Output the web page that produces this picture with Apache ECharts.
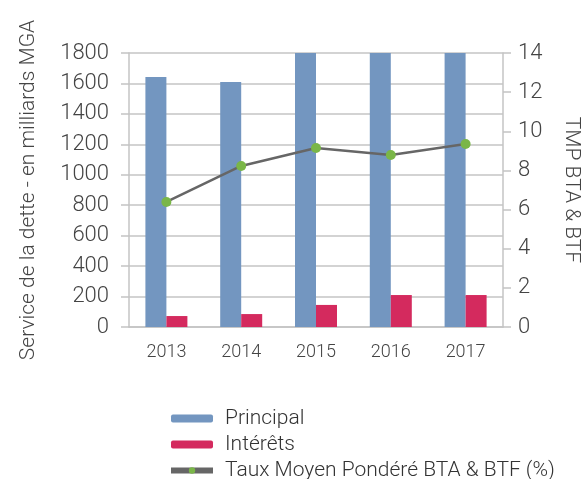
<!DOCTYPE html>
<html>
<head>
<meta charset="utf-8">
<script src="https://cdn.jsdelivr.net/npm/echarts@6/dist/echarts.min.js"></script>
<style>
  html, body { margin: 0; padding: 0; background: #fff; }
  #chart { width: 584px; height: 479px; }
</style>
</head>
<body>
<div id="chart"></div>
<script>
const years = ['2013', '2014', '2015', '2016', '2017']
const principal = [1642, 1609, 1800, 1800, 1800]
const interets = [72, 85, 145, 210, 210]
const tauxMoyen = [6.39, 8.23, 9.15, 8.79, 9.35]
const leftTicks = { min: 0, max: 1800, interval: 200 }
const rightTicks = { min: 0, max: 14, interval: 2 }

const font = 'Roboto'
const txt = '#444'
const gridColor = '#c4c4c4'

const chart = echarts.init(document.getElementById('chart'), null, { renderer: 'canvas' })

const option = {
    animation: false,
    textStyle: { fontFamily: font, fontWeight: 300 },
    grid: {
        left: 129,
        right: 81,
        top: 53,
        bottom: 152,
        outerBoundsMode: 'none',
        containLabel: false
    },
    legend: {
        orient: 'vertical',
        left: 163,
        top: 403,
        height: 90,
        itemWidth: 42,
        itemHeight: 8,
        itemGap: 5,
        lineStyle: { width: 6 },
        textStyle: { fontSize: 21, color: '#333', fontFamily: font, fontWeight: 300, padding: [0, 0, 0, 7] },
        data: ['Principal', 'Intérêts', 'Taux Moyen Pondéré BTA & BTF (%)']
    },
    xAxis: {
        type: 'category',
        data: years,
        axisTick: { show: false },
        axisLine: { lineStyle: { color: gridColor, width: 1.5 } },
        axisLabel: { fontSize: 18, color: txt, margin: 16, fontFamily: font, fontWeight: 300 }
    },
    yAxis: [
        {
            type: 'value',
            min: leftTicks.min,
            max: leftTicks.max,
            interval: leftTicks.interval,
            name: 'Service de la dette - en milliards MGA',
            nameLocation: 'middle',
            nameGap: 90,
            nameRotate: 90,
            nameTextStyle: { fontSize: 21, color: txt, fontFamily: font, fontWeight: 300 },
            axisLine: { show: true, lineStyle: { color: gridColor, width: 1.5 } },
            axisTick: { show: true, length: 8, lineStyle: { color: gridColor, width: 1.5 } },
            axisLabel: { fontSize: 22, color: txt, margin: 20, fontFamily: font, fontWeight: 300, formatter: v => String(v) },
            splitLine: { lineStyle: { color: gridColor, width: 1.5 } }
        },
        {
            type: 'value',
            min: rightTicks.min,
            max: rightTicks.max,
            interval: rightTicks.interval,
            position: 'right',
            name: 'TMP BTA & BTF',
            nameLocation: 'middle',
            nameGap: 58,
            nameRotate: -90,
            nameTextStyle: { fontSize: 21, color: txt, fontFamily: font, fontWeight: 300 },
            axisLine: { show: true, lineStyle: { color: gridColor, width: 1.5 } },
            axisTick: { show: true, length: 8, lineStyle: { color: gridColor, width: 1.5 } },
            axisLabel: { fontSize: 22, color: txt, margin: 15, fontFamily: font, fontWeight: 300 },
            splitLine: { show: false }
        }
    ],
    series: [
        {
            name: 'Principal',
            type: 'bar',
            data: principal,
            barWidth: 21,
            barGap: '0%',
            itemStyle: { color: '#7396c0' }
        },
        {
            name: 'Intérêts',
            type: 'bar',
            data: interets,
            barWidth: 21,
            barGap: '0%',
            itemStyle: { color: '#d42a5e' }
        },
        {
            name: 'Taux Moyen Pondéré BTA & BTF (%)',
            type: 'line',
            yAxisIndex: 1,
            data: tauxMoyen,
            symbol: 'circle',
            symbolSize: 10,
            lineStyle: { color: '#666', width: 2.5 },
            itemStyle: { color: '#7ab648', borderWidth: 0 }
        }
    ]
}

chart.setOption(option)
</script>
</body>
</html>
